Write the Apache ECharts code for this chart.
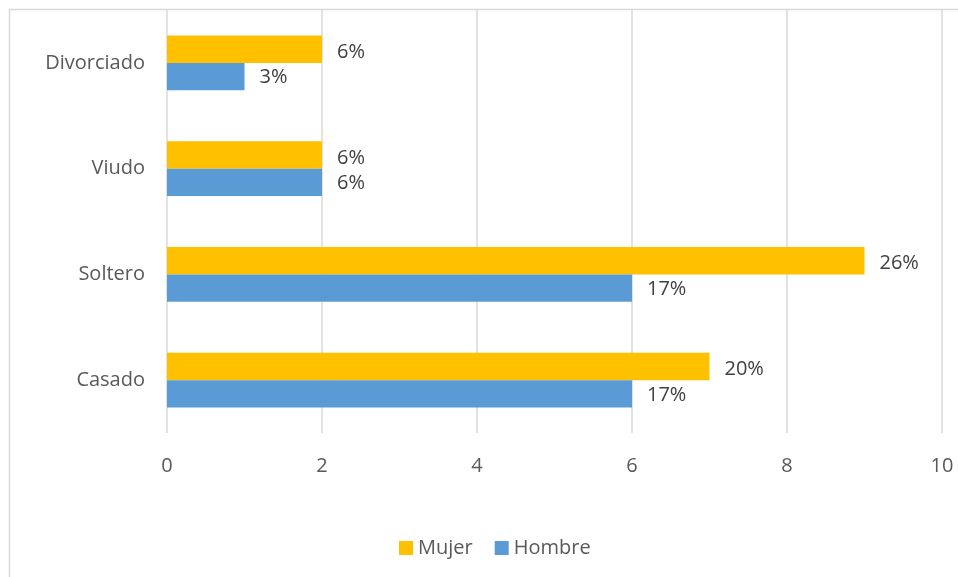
<!DOCTYPE html>
<html>
<head>
<meta charset="utf-8">
<script src="https://cdn.jsdelivr.net/npm/echarts@6/dist/echarts.min.js"></script>
<style>
  html, body { margin: 0; padding: 0; background: #fff; }
  #chart { width: 958px; height: 577px; }
</style>
</head>
<body>
<div id="chart"></div>
<script>
// Estado civil, bottom to top
const categories = ['Casado', 'Soltero', 'Viudo', 'Divorciado'];
const mujer = [7, 9, 2, 2];
const hombre = [6, 6, 2, 1];
const xTicks = [0, 2, 4, 6, 8, 10];

// Percent labels are each count over the grand total
const total = mujer.concat(hombre).reduce((a, b) => a + b, 0);
const pct = v => Math.round(v / total * 100) + '%';

const FONT = '"Open Sans", "Liberation Sans", sans-serif';
const FS = 20;

const chart = echarts.init(document.getElementById('chart'), null, { renderer: 'canvas' });

const labelStyle = {
  show: true,
  position: 'right',
  distance: 15,
  color: '#404040',
  fontSize: FS,
  fontFamily: FONT,
  formatter: p => pct(p.value)
};

chart.setOption({
  animation: false,
  backgroundColor: '#fff',
  graphic: [{
    type: 'rect',
    shape: { x: 9.5, y: 9.5, width: 1000, height: 1000 },
    style: { fill: 'none', stroke: '#d9d9d9', lineWidth: 1.5 },
    z: 0
  }],
  grid: { left: 167, right: 16, top: 10, bottom: 144 },
  legend: {
    bottom: 14,
    left: 394,
    itemWidth: 14,
    itemHeight: 14,
    itemGap: 22,
    icon: 'rect',
    textStyle: { color: '#595959', fontSize: FS, fontFamily: FONT },
    data: ['Mujer', 'Hombre']
  },
  xAxis: {
    type: 'value',
    min: xTicks[0],
    max: xTicks[xTicks.length - 1],
    interval: 2,
    axisLine: { show: false },
    axisTick: { show: false },
    splitLine: { lineStyle: { color: '#d9d9d9', width: 1.5 } },
    axisLabel: { color: '#595959', fontSize: FS, fontFamily: FONT, margin: 23 }
  },
  yAxis: {
    type: 'category',
    data: categories,
    axisLine: { show: false },
    axisTick: { show: false },
    axisLabel: { color: '#595959', fontSize: FS, fontFamily: FONT, margin: 22 }
  },
  series: [
    {
      name: 'Mujer',
      type: 'bar',
      data: mujer,
      itemStyle: { color: '#ffc000' },
      barGap: '0%',
      barCategoryGap: '48%',
      label: Object.assign({}, labelStyle, { offset: [0, 3] })
    },
    {
      name: 'Hombre',
      type: 'bar',
      data: hombre,
      itemStyle: { color: '#5b9bd5' },
      barGap: '0%',
      barCategoryGap: '48%',
      label: Object.assign({}, labelStyle, { offset: [0, 1] })
    }
  ]
});
</script>
</body>
</html>
